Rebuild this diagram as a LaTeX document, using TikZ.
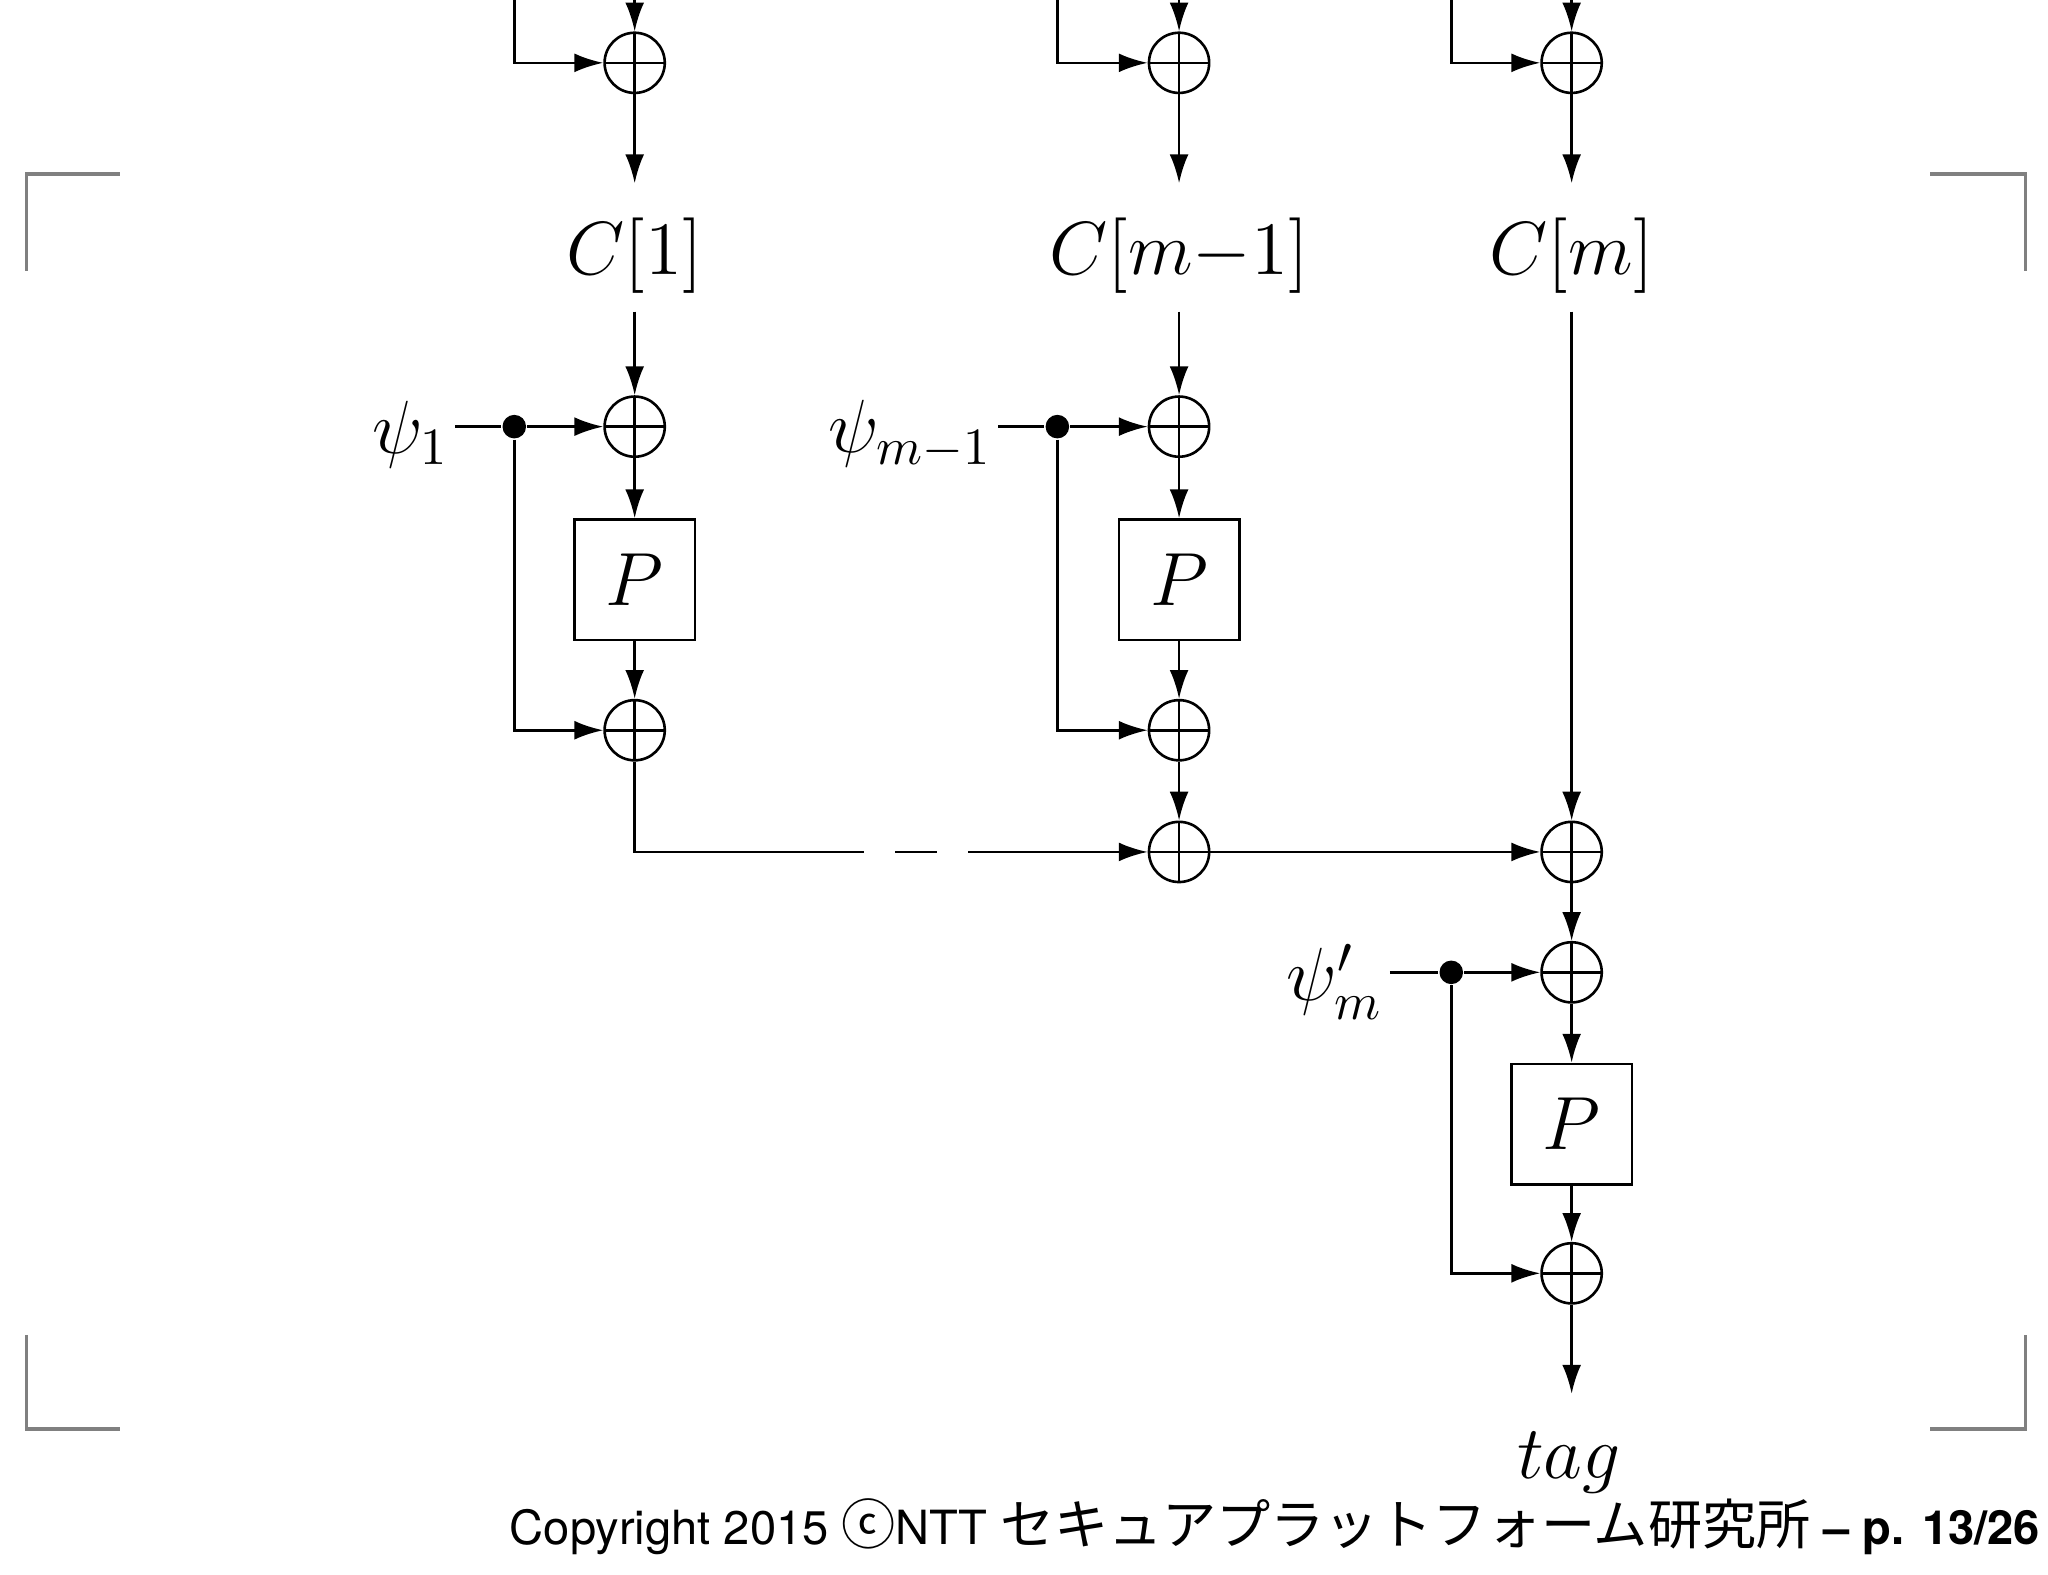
\documentclass[tikz,border=0pt]{standalone}
\usepackage{fontspec}
\setsansfont{TeX Gyre Heros}
\newfontfamily\cjk{Noto Sans CJK JP}[Scale=1.15]
\usetikzlibrary{arrows.meta,positioning,calc}
\tikzset{
  >={Latex[length=5.5pt,width=3.6pt]},
  xor/.style={circle,draw,line width=0.5pt,minimum size=11.5pt,inner sep=0pt,
    path picture={\draw[line width=0.5pt] (path picture bounding box.north) -- (path picture bounding box.south)
      (path picture bounding box.west) -- (path picture bounding box.east);}},
  perm/.style={draw,line width=0.5pt,minimum size=23pt,inner sep=0pt},
  dot/.style={circle,fill,inner sep=0pt,minimum size=4.5pt},
  crop/.style={gray,line width=0.6pt},
  lbl/.style={inner sep=1pt},
}
\begin{document}
\begin{tikzpicture}[x=0.25pt,y=-0.25pt,line width=0.5pt,font=\fontsize{14.5}{17}\selectfont]
\useasboundingbox (0,0) rectangle (1565,1203);
\begin{scope}
\clip (0,0) rectangle (1565,1203);
% crop marks
\draw[crop] (20,207) -- (20,133) -- (92,133);
\draw[crop] (1475,133) -- (1548,133) -- (1548,207);
\draw[crop] (20,1020) -- (20,1092) -- (92,1092);
\draw[crop] (1475,1092) -- (1548,1092) -- (1548,1020);

% top rows
\foreach \cx/\fx/\n in {485/393/a,901/808/b,1201/1109/c}{
  \node[xor] (top\n) at (\cx,48) {};
  \coordinate (in\n) at (\cx,-10);
  \coordinate (fd\n) at (\fx,-10);
  \coordinate (out\n) at (\cx,140);
  \draw[->] (in\n) -- (top\n);
  \draw[->] (fd\n) |- (top\n);
  \draw[->] (top\n) -- (out\n);
}
\node (Ca) at (485,195) {$C[1]$};
\node (Cb) at (901,195) {$C[m{-}1]$};
\node (Cc) at (1201,195) {$C[m]$};

% masked blocks
\foreach \cx/\fx/\n/\lab in {485/393/a/{\psi_1},901/808/b/{\psi_{m-1}}}{
  \node[xor] (xi\n) at (\cx,326) {};
  \node[perm] (P\n) at (\cx,443) {$P$};
  \node[xor] (xo\n) at (\cx,558) {};
  \node[dot] (d\n) at (\fx,326) {};
  \node[lbl,anchor=east] (psi\n) at (\fx-45,332) {$\lab$};
  \draw (psi\n.east|-d\n) -- (d\n);
  \draw[->] (d\n) -- (xi\n);
  \draw[->] (d\n) |- (xo\n);
  \draw[->] (C\n) -- (xi\n);
  \draw[->] (xi\n) -- (P\n);
  \draw[->] (P\n) -- (xo\n);
}

% sum row
\node[xor] (sb) at (901,651) {};
\node[xor] (sc) at (1201,651) {};
\coordinate (da) at (628,651);
\coordinate (db) at (760,651);
\draw (xoa) |- (da);
\draw[dashed,dash pattern=on 8pt off 6pt] (da) -- (db);
\draw[->] (db) -- (sb);
\draw[->] (xob) -- (sb);
\draw[->] (sb) -- (sc);
\draw[->] (Cc) -- (sc);

% final block
\node[xor] (xic) at (1201,743) {};
\node[perm] (Pc) at (1201,859) {$P$};
\node[xor] (xoc) at (1201,973) {};
\node[dot] (dc) at (1109,743) {};
\node[lbl,anchor=east] (psic) at (1062,750) {$\psi'_m$};
\coordinate (tg) at (1201,1065);
\node (tag) at (1199,1118) {$tag$};
\draw (psic.east|-dc) -- (dc);
\draw[->] (dc) -- (xic);
\draw[->] (dc) |- (xoc);
\draw[->] (sc) -- (xic);
\draw[->] (xic) -- (Pc);
\draw[->] (Pc) -- (xoc);
\draw[->] (xoc) -- (tg);
\end{scope}

% footer
\node[anchor=base east,inner sep=0pt,font=\sffamily\fontsize{9}{11}\selectfont] (foot) at (1560,1180)
  {Copyright 2015 {\cjk ⓒ}NTT {\cjk セキュアプラットフォーム研究所} \textbf{– p. 13/26}};
\end{tikzpicture}
\end{document}
